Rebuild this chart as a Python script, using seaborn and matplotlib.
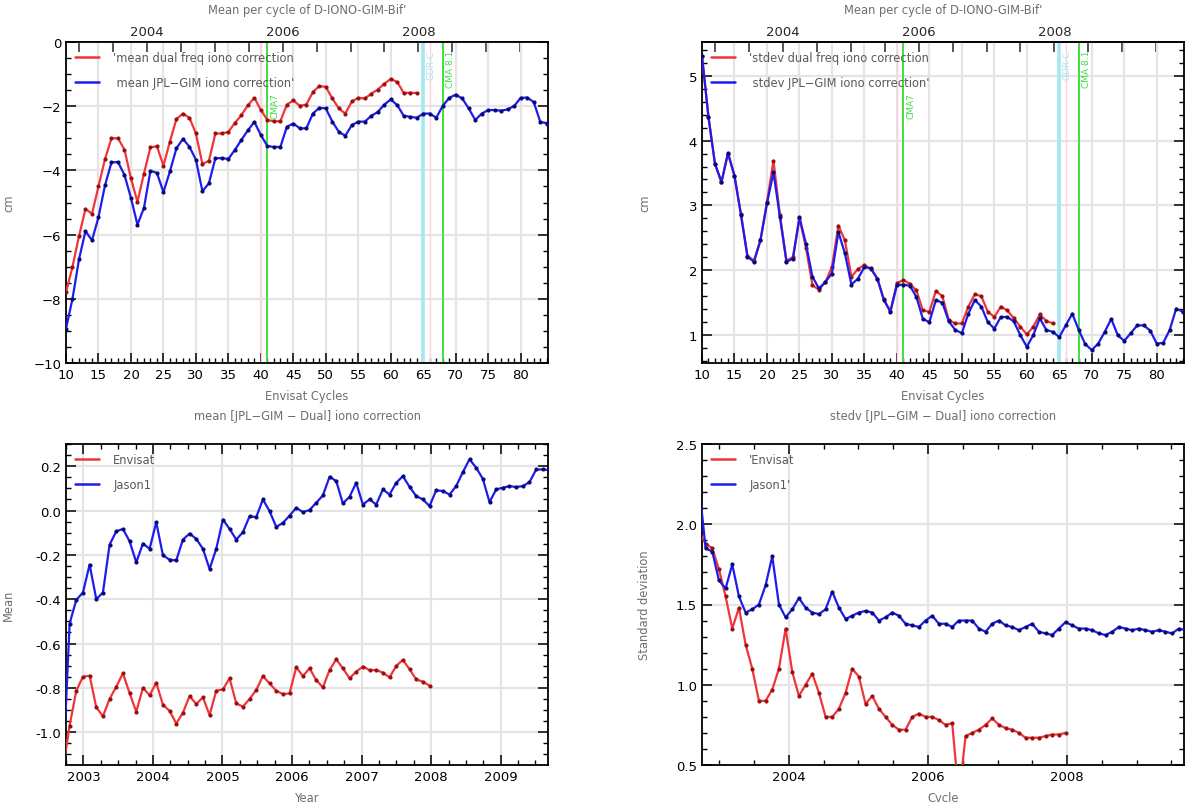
import numpy as np
import pandas as pd
import matplotlib
matplotlib.use("Agg")
import matplotlib.pyplot as plt
from matplotlib.lines import Line2D
from matplotlib.ticker import MultipleLocator, FixedLocator, FormatStrFormatter
import seaborn as sns

sns.set_theme(style="white")
plt.rcParams['font.family'] = ['DejaVu Sans']

# ---------------- data ----------------
# Envisat cycle numbers
cycles_gim = list(range(10, 85))
cycles_dual = list(range(10, 65))

mean_dual = [-7.8, -7.0, -6.05, -5.2, -5.35, -4.5, -3.65, -3.0, -3.0, -3.35,
             -4.25, -4.98, -4.1, -3.28, -3.25, -3.85, -3.1, -2.4, -2.23, -2.36,
             -2.85, -3.8, -3.7, -2.85, -2.85, -2.8, -2.52, -2.28, -1.97, -1.74,
             -2.12, -2.43, -2.47, -2.47, -1.95, -1.82, -1.99, -1.95, -1.56, -1.37,
             -1.40, -1.76, -2.07, -2.23, -1.85, -1.74, -1.76, -1.61, -1.48, -1.30,
             -1.15, -1.25, -1.59, -1.58, -1.59]
mean_gim = [-8.93, -8.0, -6.77, -5.89, -6.18, -5.46, -4.47, -3.75, -3.74, -4.14,
            -4.86, -5.69, -5.17, -4.01, -4.08, -4.68, -4.03, -3.31, -3.02, -3.26,
            -3.67, -4.65, -4.4, -3.62, -3.62, -3.64, -3.36, -3.05, -2.75, -2.49,
            -2.9, -3.24, -3.27, -3.27, -2.64, -2.54, -2.69, -2.69, -2.23, -2.05,
            -2.07, -2.48, -2.8, -2.92, -2.59, -2.48, -2.48, -2.3, -2.18, -1.95,
            -1.79, -1.97, -2.3, -2.33, -2.36, -2.23, -2.23, -2.36, -1.99, -1.74,
            -1.64, -1.76, -2.07, -2.43, -2.23, -2.12, -2.12, -2.14, -2.1, -1.99,
            -1.74, -1.73, -1.87, -2.48, -2.54]

std_dual = [5.3, 4.36, 3.64, 3.36, 3.8, 3.45, 2.87, 2.22, 2.15, 2.47,
            3.05, 3.69, 2.85, 2.15, 2.2, 2.8, 2.35, 1.77, 1.7, 1.82,
            2.05, 2.69, 2.46, 1.9, 2.02, 2.08, 2.02, 1.87, 1.55, 1.37,
            1.8, 1.85, 1.79, 1.69, 1.38, 1.36, 1.68, 1.6, 1.23, 1.18,
            1.18, 1.44, 1.63, 1.6, 1.36, 1.28, 1.44, 1.38, 1.26, 1.13,
            1.01, 1.13, 1.32, 1.22, 1.18]
std_gim = [5.31, 4.36, 3.64, 3.36, 3.81, 3.46, 2.85, 2.21, 2.13, 2.46,
           3.03, 3.51, 2.82, 2.13, 2.18, 2.82, 2.41, 1.9, 1.72, 1.82,
           1.95, 2.59, 2.26, 1.78, 1.87, 2.05, 2.03, 1.87, 1.54, 1.36,
           1.77, 1.78, 1.76, 1.59, 1.25, 1.2, 1.54, 1.5, 1.21, 1.08,
           1.03, 1.33, 1.54, 1.44, 1.2, 1.1, 1.28, 1.28, 1.21, 1.0,
           0.82, 1.0, 1.26, 1.08, 1.05, 0.97, 1.15, 1.33, 1.08, 0.86,
           0.77, 0.87, 1.05, 1.25, 1.0, 0.91, 1.03, 1.15, 1.15, 1.07,
           0.87, 0.88, 1.08, 1.41, 1.36]

# cycle index (relative to Envisat cycle 10) for the difference statistics
k_env = list(range(-1, 55))
k_jas = list(range(-1, 73))

diff_mean_env = [-1.17, -0.97, -0.813, -0.75, -0.745, -0.888, -0.928, -0.85, -0.795, -0.734,
                 -0.824, -0.908, -0.80, -0.833, -0.777, -0.876, -0.904, -0.961, -0.912, -0.837,
                 -0.873, -0.843, -0.923, -0.813, -0.807, -0.757, -0.870, -0.885, -0.85, -0.81,
                 -0.747, -0.78, -0.813, -0.828, -0.825, -0.707, -0.747, -0.712, -0.765, -0.798,
                 -0.72, -0.671, -0.712, -0.757, -0.727, -0.704, -0.72, -0.72, -0.731, -0.753,
                 -0.701, -0.674, -0.716, -0.762, -0.772, -0.79]
diff_mean_jas = [-1.18, -0.51, -0.403, -0.37, -0.244, -0.40, -0.37, -0.154, -0.094, -0.083,
                 -0.139, -0.234, -0.149, -0.173, -0.053, -0.202, -0.222, -0.225, -0.131, -0.104,
                 -0.128, -0.173, -0.264, -0.173, -0.041, -0.083, -0.131, -0.098, -0.026, -0.030,
                 0.05, -0.003, -0.074, -0.056, -0.023, 0.012, -0.007, 0.002, 0.035, 0.068,
                 0.152, 0.133, 0.032, 0.062, 0.125, 0.027, 0.05, 0.027, 0.095, 0.072,
                 0.125, 0.155, 0.107, 0.065, 0.05, 0.02, 0.091, 0.088, 0.072, 0.11,
                 0.173, 0.231, 0.193, 0.143, 0.038, 0.095, 0.103, 0.11, 0.106, 0.11,
                 0.128, 0.185, 0.185, 0.182]

diff_std_env = [1.95, 1.88, 1.85, 1.72, 1.55, 1.35, 1.48, 1.25, 1.1, 0.9,
                0.9, 0.97, 1.1, 1.35, 1.08, 0.93, 1.0, 1.07, 0.95, 0.8,
                0.8, 0.85, 0.95, 1.1, 1.05, 0.88, 0.93, 0.85, 0.8, 0.75,
                0.72, 0.72, 0.8, 0.82, 0.8, 0.8, 0.78, 0.75, 0.76, 0.3,
                0.68, 0.7, 0.72, 0.75, 0.79, 0.75, 0.73, 0.72, 0.7, 0.67,
                0.67, 0.67, 0.68, 0.69, 0.69, 0.7]
diff_std_jas = [2.25, 1.85, 1.83, 1.65, 1.6, 1.75, 1.55, 1.45, 1.47, 1.5,
                1.62, 1.8, 1.5, 1.42, 1.47, 1.54, 1.48, 1.45, 1.44, 1.47,
                1.58, 1.48, 1.41, 1.43, 1.45, 1.46, 1.45, 1.4, 1.42, 1.45,
                1.43, 1.38, 1.37, 1.36, 1.4, 1.43, 1.38, 1.38, 1.36, 1.4,
                1.4, 1.4, 1.35, 1.33, 1.38, 1.4, 1.37, 1.36, 1.34, 1.36,
                1.38, 1.33, 1.32, 1.31, 1.35, 1.39, 1.37, 1.35, 1.35, 1.34,
                1.32, 1.31, 1.33, 1.36, 1.35, 1.34, 1.35, 1.34, 1.33, 1.34,
                1.33, 1.32, 1.35, 1.34]

# events marked on the cycle plots (label top given as a fraction of axes height)
event_cycles = [41, 65, 68]
event_labels = ["CMA7", "GDR-C", "CMA 8.1"]
event_colors = ["#3ee03e", "#a6e8ef", "#3ee03e"]
event_label_top = [0.845, 0.975, 0.975]
# faint reference markers on the cycle plots
marker_cycles = [40, 66]

# ---------------- helpers ----------------
CYCLE_DAYS = 35.0
YEAR0 = 2002.802  # start of Envisat cycle 10


def cycle_to_year(c):
    return YEAR0 + (np.asarray(c, dtype=float) - 10.0) * CYCLE_DAYS / 365.25


def year_to_cycle(y):
    return 10.0 + (np.asarray(y, dtype=float) - YEAR0) * 365.25 / CYCLE_DAYS


RED = "#f0353a"
RED_DOT = "#9a1010"
BLUE = "#1c1cf0"
BLUE_DOT = "#0a0a70"
GREY_TXT = "#6e6e6e"
GRID = "#e4e4e4"


def series(ax, x, y, color, dot, label):
    df = pd.DataFrame({"x": x, "y": y})
    sns.lineplot(data=df, x="x", y="y", ax=ax, color=color, lw=1.6,
                 marker="o", markersize=3.0, markerfacecolor=dot,
                 markeredgecolor=dot, markeredgewidth=0, label=label,
                 legend=False, sort=False, zorder=3)


def style_axes(ax):
    for s in ax.spines.values():
        s.set_color("black")
        s.set_linewidth(1.3)
    ax.tick_params(which="both", direction="in", colors="black",
                   labelsize=9.5, left=True, right=True, bottom=True)
    ax.tick_params(which="major", length=7, width=1.1)
    ax.tick_params(which="minor", length=3.5, width=1.0)
    ax.grid(True, which="major", color=GRID, lw=1.6, zorder=0)
    ax.set_axisbelow(True)


def add_legend(ax, labels):
    handles = [Line2D([], [], color=RED, lw=1.8), Line2D([], [], color=BLUE, lw=1.8)]
    leg = ax.legend(handles, labels, loc="upper left", frameon=False,
                    fontsize=8.3, handlelength=2.1, handletextpad=1.2,
                    labelspacing=1.05, borderaxespad=0.5, borderpad=0.3)
    for t in leg.get_texts():
        t.set_color("#5a5a5a")


W, H = 1187, 803
fig = plt.figure(figsize=(W / 100, H / 100), dpi=100)
fig.patch.set_facecolor("white")


def px_axes(x0, x1, y0, y1):
    return fig.add_axes([x0 / W, 1 - y1 / H, (x1 - x0) / W, (y1 - y0) / H])


ax_tl = px_axes(66, 548, 43, 364)
ax_tr = px_axes(702, 1184, 43, 364)
ax_bl = px_axes(66, 548, 445, 766)
ax_br = px_axes(702, 1184, 445, 766)

# ---------------- top panels: per-cycle statistics ----------------
for ax, dual, gim, ylim, ymaj, ymin, labels in [
    (ax_tl, mean_dual, mean_gim, (-10, 0), 2, 0.5,
     ["'mean dual freq iono correction", " mean JPL\u2212GIM iono correction'"]),
    (ax_tr, std_dual, std_gim, (0.57, 5.52), 1, 0.2,
     ["'stdev dual freq iono correction", " stdev JPL\u2212GIM iono correction'"]),
]:
    style_axes(ax)
    for c in marker_cycles:
        ax.axvline(c, color="#f8d6dc", lw=1.0, zorder=1)
    for c, lab, col, top in zip(event_cycles, event_labels, event_colors,
                                event_label_top):
        lw = 2.6 if col == "#a6e8ef" else 1.4
        ax.axvline(c, color=col, lw=lw, zorder=2)
        ax.text(c + 0.5, ylim[0] + top * (ylim[1] - ylim[0]), lab,
                rotation=90, va="top", ha="left", fontsize=6.5,
                color=col, zorder=2)
    series(ax, cycles_dual, dual, RED, RED_DOT, labels[0])
    series(ax, cycles_gim, gim, BLUE, BLUE_DOT, labels[1])
    ax.set_xlim(10, 84.2)
    ax.set_ylim(*ylim)
    ax.xaxis.set_major_locator(MultipleLocator(5))
    ax.xaxis.set_minor_locator(MultipleLocator(1))
    ax.yaxis.set_major_locator(MultipleLocator(ymaj))
    ax.yaxis.set_minor_locator(MultipleLocator(ymin))
    ax.tick_params(top=False, which="both")
    ax.set_xlabel("Envisat Cycles", color=GREY_TXT, fontsize=8.3, labelpad=6)
    ax.set_ylabel("cm", color=GREY_TXT, fontsize=8.3)
    ax.yaxis.set_label_coords(-51 / 482, 0.5)
    sec = ax.secondary_xaxis("top", functions=(cycle_to_year, year_to_cycle))
    sec.xaxis.set_major_locator(FixedLocator([2004, 2006, 2008]))
    sec.xaxis.set_minor_locator(MultipleLocator(0.5))
    sec.tick_params(which="both", direction="in", labelsize=9.5, pad=3)
    sec.tick_params(which="major", length=7, width=1.1)
    sec.tick_params(which="minor", length=7, width=1.1)
    sec.spines["top"].set_linewidth(1.3)
    ax.text(0.5, 1 + 33 / 321, "Mean per cycle of D-IONO-GIM-Bif'",
            transform=ax.transAxes, ha="center", va="center",
            fontsize=8.3, color=GREY_TXT)
    add_legend(ax, labels)

# ---------------- bottom panels: JPL-GIM minus dual-frequency ----------------
yrs_env = cycle_to_year(np.array(k_env) + 10)
yrs_jas = cycle_to_year(np.array(k_jas) + 10)

style_axes(ax_bl)
series(ax_bl, yrs_env, diff_mean_env, RED, RED_DOT, "Envisat")
series(ax_bl, yrs_jas, diff_mean_jas, BLUE, BLUE_DOT, "Jason1")
ax_bl.set_xlim(2002.75, 2009.68)
ax_bl.set_ylim(-1.148, 0.30)
ax_bl.xaxis.set_major_locator(MultipleLocator(1))
ax_bl.xaxis.set_minor_locator(MultipleLocator(0.25))
ax_bl.yaxis.set_major_locator(MultipleLocator(0.2))
ax_bl.yaxis.set_minor_locator(MultipleLocator(0.05))
ax_bl.yaxis.set_major_formatter(FormatStrFormatter("%.1f"))
ax_bl.tick_params(top=True, which="both")
ax_bl.set_xlabel("Year", color=GREY_TXT, fontsize=8.3, labelpad=6)
ax_bl.set_ylabel("Mean", color=GREY_TXT, fontsize=8.3)
ax_bl.yaxis.set_label_coords(-51 / 482, 0.5)
ax_bl.text(0.5, 1 + 29 / 321, "mean [JPL\u2212GIM \u2212 Dual] iono correction",
           transform=ax_bl.transAxes, ha="center", va="center",
           fontsize=8.3, color=GREY_TXT)
add_legend(ax_bl, ["Envisat", "Jason1"])

style_axes(ax_br)
series(ax_br, yrs_env, diff_std_env, RED, RED_DOT, "'Envisat")
series(ax_br, yrs_jas, diff_std_jas, BLUE, BLUE_DOT, "Jason1'")
ax_br.set_xlim(2002.75, 2009.68)
ax_br.set_ylim(0.5, 2.5)
ax_br.xaxis.set_major_locator(MultipleLocator(2))
ax_br.xaxis.set_minor_locator(MultipleLocator(0.5))
ax_br.yaxis.set_major_locator(MultipleLocator(0.5))
ax_br.yaxis.set_minor_locator(MultipleLocator(0.1))
ax_br.yaxis.set_major_formatter(FormatStrFormatter("%.1f"))
ax_br.tick_params(top=True, which="both")
ax_br.set_xlabel("Cycle", color=GREY_TXT, fontsize=8.3, labelpad=6)
ax_br.set_ylabel("Standard deviation", color=GREY_TXT, fontsize=8.3)
ax_br.yaxis.set_label_coords(-51 / 482, 0.5)
ax_br.text(0.5, 1 + 29 / 321, "stedv [JPL\u2212GIM \u2212 Dual] iono correction",
           transform=ax_br.transAxes, ha="center", va="center",
           fontsize=8.3, color=GREY_TXT)
add_legend(ax_br, ["'Envisat", "Jason1'"])

fig.savefig("out.png", dpi=100, facecolor="white")
